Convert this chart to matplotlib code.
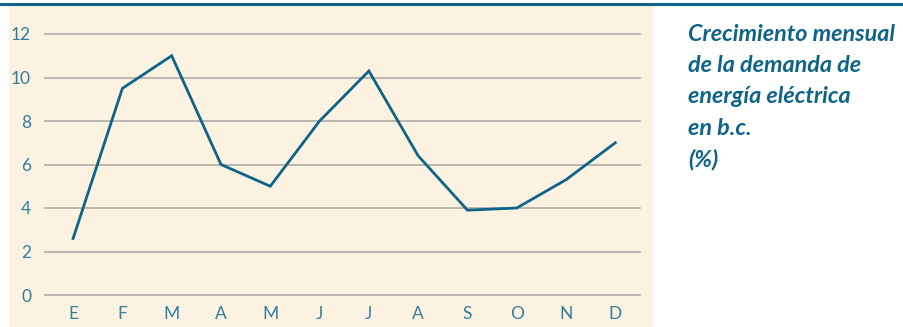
import numpy as np
import matplotlib.pyplot as plt
from matplotlib.patches import Rectangle
from matplotlib.lines import Line2D

# monthly growth of electricity demand (%)
months = ['E', 'F', 'M', 'A', 'M', 'J', 'J', 'A', 'S', 'O', 'N', 'D']
growth = [2.6, 9.5, 11.0, 6.0, 5.0, 8.0, 10.3, 6.4, 3.9, 4.0, 5.3, 7.0]
yticks = [0, 2, 4, 6, 8, 10, 12]

teal = '#0e6488'
label_col = '#2f7f9f'
cream = '#fcf2e2'
grid_col = '#a9a7a3'

fig = plt.figure(figsize=(9.04, 3.27), dpi=100)
fig.patch.set_facecolor('white')

# cream panel behind the chart and dark rule on top
fig.patches.append(Rectangle((9/904, 0), (653-9)/904, 1 - 6/327,
                             transform=fig.transFigure, facecolor=cream,
                             edgecolor='none', zorder=-5))
fig.lines.append(Line2D([0, 1], [1 - 3.5/327, 1 - 3.5/327], transform=fig.transFigure,
                        color=teal, lw=2.2, zorder=-4))

ax = fig.add_axes([45/904, 32/327, (640-45)/904, (295-34)/327])
ax.set_facecolor('none')
x = np.arange(len(months))
ax.plot(x, growth, color=teal, lw=2, solid_joinstyle='miter', zorder=3)

ax.set_xlim(-0.57, 11.5)
ax.set_ylim(0, 12)
for v in yticks:
    ax.axhline(v, color=grid_col, lw=1.1, zorder=1, clip_on=False)

ax.set_yticks(yticks)
ax.set_yticklabels([str(v) for v in yticks], fontsize=12.5, color=label_col,
                   family='Lato')
ax.set_xticks(x)
ax.set_xticklabels(months, fontsize=12.5, color=label_col, family='Lato')
ax.tick_params(length=0, pad=8)
ax.tick_params(axis='y', pad=10)
for s in ax.spines.values():
    s.set_visible(False)

fig.text(688/904, 1 - 24/327,
         'Crecimiento mensual\nde la demanda de\nenergía eléctrica\nen b.c.\n(%)',
         ha='left', va='top', fontsize=16.8, color=teal, family='Lato',
         style='italic', fontweight='bold', linespacing=1.6)

fig.savefig('out.png', dpi=100)
